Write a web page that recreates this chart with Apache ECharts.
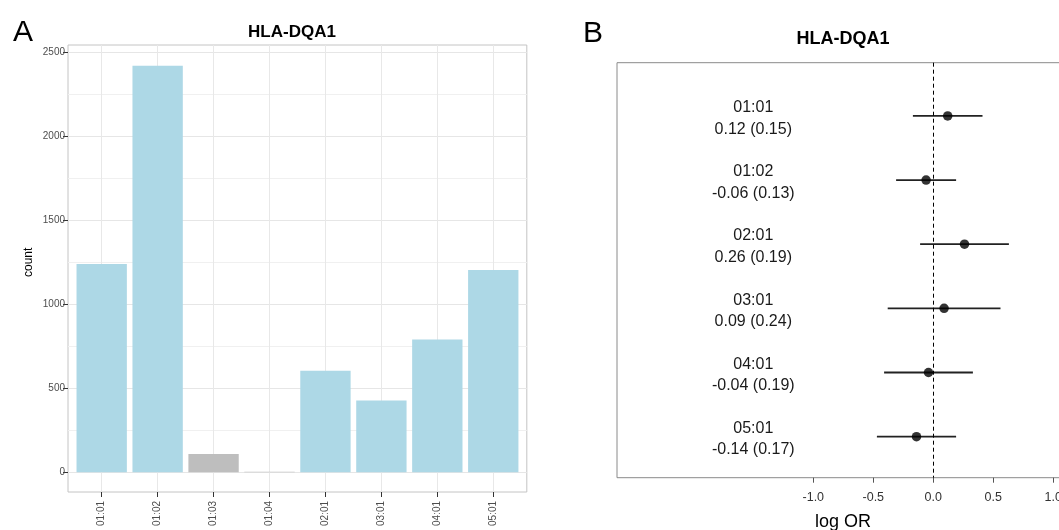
<!DOCTYPE html>
<html><head><meta charset="utf-8">
<script src="https://cdn.jsdelivr.net/npm/echarts@6/dist/echarts.min.js"></script>
<style>html,body{margin:0;padding:0;background:#fff}#c{width:1059px;height:530px}</style>
</head><body><div id="c"></div>
<script>
// ---- Panel A data ----
const alleles = ['01:01','01:02','01:03','01:04','02:01','03:01','04:01','05:01'];
const counts = [1240, 2421, 108, 3, 605, 427, 790, 1205];
const countTicks = [0, 500, 1000, 1500, 2000, 2500];

// ---- Panel B data ----
const forestAlleles = ['01:01','01:02','02:01','03:01','04:01','05:01'];
const logOR = [0.12, -0.06, 0.26, 0.09, -0.04, -0.14];
const seLogOR = [0.15, 0.13, 0.19, 0.24, 0.19, 0.17];
const ciLow = [-0.17, -0.31, -0.11, -0.38, -0.41, -0.47];
const ciHigh = [0.41, 0.19, 0.63, 0.56, 0.33, 0.19];
const orTicks = [-1.0, -0.5, 0.0, 0.5, 1.0];

const FONT = 'Liberation Sans, Arial, Helvetica, sans-serif';
const chart = echarts.init(document.getElementById('c'), null, {renderer: 'canvas'});

const tickStep = countTicks[1] - countTicks[0];
const orStep = orTicks[1] - orTicks[0];
const G = {outerBoundsMode: 'none', containLabel: false};

chart.setOption({
  animation: false,
  textStyle: {fontFamily: FONT},
  title: [
    {text: 'A', left: 13, top: 18, padding: 0, textStyle: {fontSize: 30, fontWeight: 'normal', color: '#000', fontFamily: FONT}},
    {text: 'HLA-DQA1', left: 292, top: 24, padding: 0, textAlign: 'center', textStyle: {fontSize: 17, fontWeight: 'bold', color: '#000', fontFamily: FONT}},
    {text: 'B', left: 583, top: 19, padding: 0, textStyle: {fontSize: 30, fontWeight: 'normal', color: '#000', fontFamily: FONT}},
    {text: 'HLA-DQA1', left: 843, top: 30, padding: 0, textAlign: 'center', textStyle: {fontSize: 18, fontWeight: 'bold', color: '#000', fontFamily: FONT}},
    {text: 'log OR', left: 843, top: 513, padding: 0, textAlign: 'center', textStyle: {fontSize: 18, fontWeight: 'normal', color: '#000', fontFamily: FONT}}
  ],
  grid: [
    Object.assign({left: 73.73, top: 52.5, width: 447.5, height: 419.7}, G),
    Object.assign({left: 68, top: 52.5, width: 458.8, height: 419.7}, G),
    Object.assign({left: 73.73, top: 45, width: 447.5, height: 447}, G),
    Object.assign({left: 68, top: 45, width: 458.8, height: 447, show: true, borderColor: '#c4c4c4', borderWidth: 1, backgroundColor: 'rgba(0,0,0,0)'}, G),
    Object.assign({left: 617, top: 62.7, width: 540, height: 415, show: true, borderColor: '#8a8a8a', borderWidth: 1, backgroundColor: 'rgba(0,0,0,0)'}, G),
    Object.assign({left: 813.3, top: 62.7, width: 300, height: 415}, G)
  ],
  xAxis: [
    {gridIndex: 0, type: 'category', data: alleles, offset: 19.8,
     axisLine: {show: false, onZero: false},
     axisTick: {show: true, alignWithLabel: true, length: 5, lineStyle: {color: '#333'}},
     axisLabel: {rotate: 90, fontSize: 10, color: '#4d4d4d', margin: 9, fontFamily: FONT},
     splitLine: {show: false}},
    {gridIndex: 1, type: 'value', show: false, min: 0, max: 1},
    {gridIndex: 2, type: 'category', data: alleles,
     axisLine: {show: false, onZero: false}, axisTick: {show: false}, axisLabel: {show: false},
     splitLine: {show: true, alignWithLabel: true, lineStyle: {color: '#e8e8e8', width: 1}}},
    {gridIndex: 3, type: 'value', show: false, min: 0, max: 1},
    {gridIndex: 4, type: 'value', show: false, min: 0, max: 1},
    {gridIndex: 5, type: 'value', min: orTicks[0], max: 1.5, interval: orStep,
     axisLine: {show: false, onZero: false},
     axisTick: {show: true, length: 5, lineStyle: {color: '#555'}},
     axisLabel: {fontSize: 12.5, color: '#333', margin: 13, showMaxLabel: false, fontFamily: FONT,
                 formatter: v => v.toFixed(1)},
     splitLine: {show: false}}
  ],
  yAxis: [
    {gridIndex: 0, type: 'value', min: countTicks[0], max: countTicks[countTicks.length - 1], interval: tickStep, offset: 5.73,
     axisLine: {show: false},
     axisTick: {show: true, length: 5, lineStyle: {color: '#333'}},
     axisLabel: {fontSize: 10, color: '#4d4d4d', margin: 3, fontFamily: FONT, formatter: v => String(v)},
     splitLine: {show: false},
     name: 'count', nameLocation: 'middle', nameGap: 33, nameRotate: 90,
     nameTextStyle: {fontSize: 12, color: '#000', fontFamily: FONT}},
    {gridIndex: 1, type: 'value', min: countTicks[0], max: countTicks[countTicks.length - 1], interval: tickStep / 2,
     axisLine: {show: false}, axisTick: {show: false}, axisLabel: {show: false},
     splitLine: {show: true, lineStyle: {color: ['#e6e6e6', '#f0f0f0'], width: 1}}},
    {gridIndex: 2, type: 'value', show: false, min: 0, max: 1},
    {gridIndex: 3, type: 'value', show: false, min: 0, max: 1},
    {gridIndex: 4, type: 'value', show: false, min: 0, max: 1},
    {gridIndex: 5, type: 'value', inverse: true, min: -0.83, max: 5.64, show: false}
  ],
  series: [
    {type: 'bar', xAxisIndex: 0, yAxisIndex: 0, data: counts, barCategoryGap: '10%', z: 3,
     itemStyle: {color: p => (p.value < 200 ? '#bebebe' : '#add8e6')}},
    {type: 'custom', xAxisIndex: 5, yAxisIndex: 5, clip: false, z: 3,
     data: forestAlleles.map((a, i) => [ciLow[i], ciHigh[i], i]),
     encode: {x: [0, 1], y: 2},
     renderItem: (params, api) => {
       const a = api.coord([api.value(0), api.value(2)]);
       const b = api.coord([api.value(1), api.value(2)]);
       return {type: 'line', shape: {x1: a[0], y1: a[1], x2: b[0], y2: b[1]},
               style: {stroke: '#222', lineWidth: 1.8}};
     }},
    {type: 'scatter', xAxisIndex: 5, yAxisIndex: 5, z: 4,
     data: logOR.map((v, i) => [v, i]),
     symbol: 'circle', symbolSize: 9.5, itemStyle: {color: '#000'},
     markLine: {silent: true, symbol: ['none', 'none'], label: {show: false},
                lineStyle: {color: '#000', width: 1, type: [4, 3]},
                data: [{xAxis: 0}]}},
    {type: 'custom', xAxisIndex: 5, yAxisIndex: 5, clip: false, z: 3,
     data: forestAlleles.map((a, i) => [logOR[i], i]),
     encode: {x: 0, y: 1},
     renderItem: (params, api) => {
       const i = params.dataIndex;
       const p = api.coord([api.value(0), api.value(1)]);
       return {type: 'text', x: params.coordSys.x - 60, y: p[1] + 2.5,
               style: {text: forestAlleles[i] + '\n' + logOR[i].toFixed(2) + ' (' + seLogOR[i].toFixed(2) + ')',
                       fontSize: 16, lineHeight: 21.5, align: 'center', verticalAlign: 'middle',
                       fill: '#1a1a1a', fontFamily: FONT}};
     }}
  ]
});
</script>
</body></html>
